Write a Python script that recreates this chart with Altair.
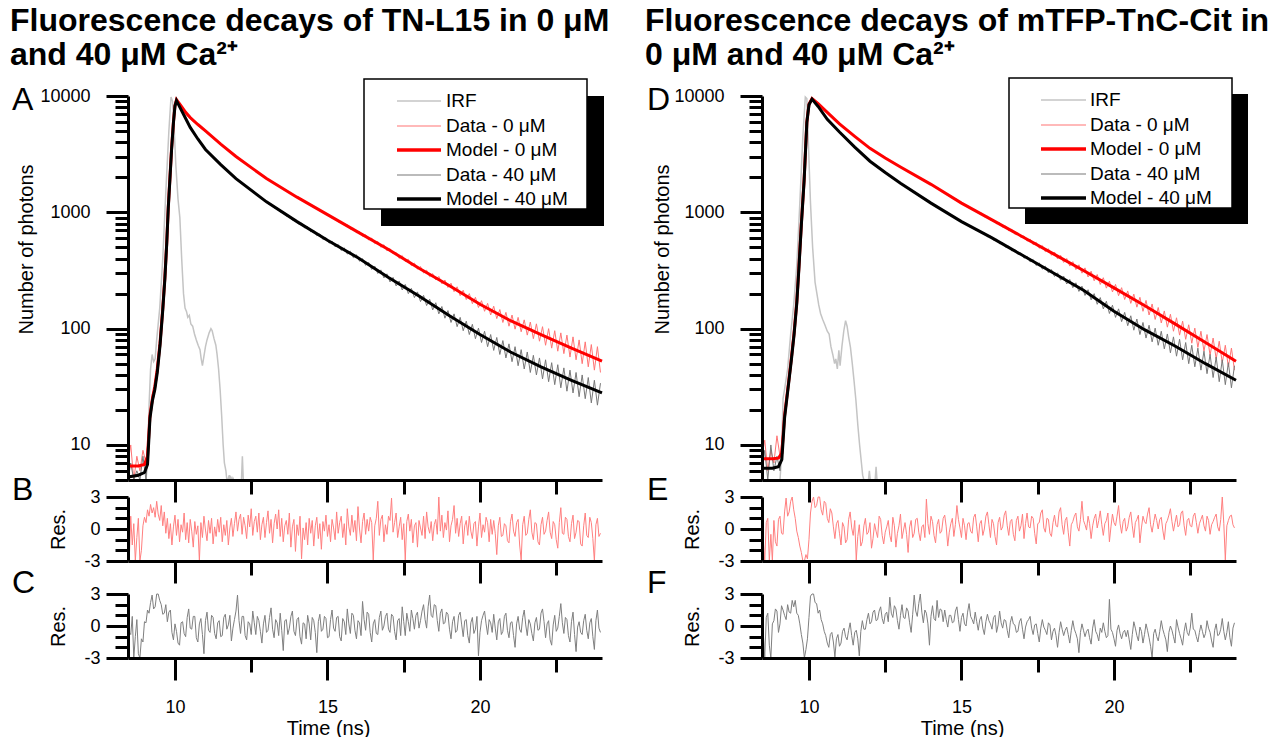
import altair as alt
import pandas as pd

FONT = "Liberation Sans"

# ---------------- sampling of the measured traces (ns) ----------------
T0 = 8.45
DT = 0.1        # decay traces
DT_RES = 0.05   # residual traces
T_DOMAIN = [8.46, 24.0]

# ======================= Left: TN-L15 =======================
L_IRF_T = [9.0, 9.05, 9.1, 9.15, 9.2, 9.25, 9.3, 9.35, 9.4, 9.5, 9.6, 9.7, 9.8, 9.87, 9.92, 9.97, 10.03,
           10.1, 10.16, 10.22, 10.28, 10.33, 10.38, 10.42, 10.47, 10.52, 10.58, 10.64, 10.7, 10.76, 10.82,
           10.86, 10.9, 10.95, 11.0, 11.05, 11.12, 11.18, 11.22, 11.28, 11.34, 11.38, 11.43, 11.48, 11.53,
           11.58, 11.62, 11.67, 11.7, 11.73, 11.78, 11.8, 11.83, 11.88, 11.9, 11.93, 12.18, 12.21, 12.24]
L_IRF_V = [3, 4, 7, 22, 45, 60, 52, 55, 80, 150, 400, 1500, 5000, 9800, 9000, 5500, 2500,
           1300, 900, 400, 200, 150, 140, 125, 130, 110, 105, 90, 80, 72, 66,
           55, 48, 58, 70, 80, 92, 100, 96, 82, 72, 60, 45, 30, 18,
           10, 7, 6, 5, 3, 5.5, 3, 5.3, 3, 5.2, 3, 3, 8, 3]

L_MODEL_T = [8.45, 8.8, 9.0, 9.1, 9.18, 9.26, 9.34, 9.42, 9.51, 9.6, 9.67, 9.73, 9.78, 9.84, 9.89, 9.95,
             10.0, 10.05, 10.2, 10.35, 10.5, 10.75, 11, 11.5, 12, 13, 14, 15, 16, 17, 18, 19, 20, 21, 22, 23, 24]
L_MODEL_0 = [6.6, 6.6, 6.8, 8, 18, 25, 32, 45, 75, 150, 280, 550, 1100, 2100, 3600, 6000,
             8300, 9300, 8220, 7240, 6530, 5690, 5010, 3850, 3020, 1950, 1350, 955, 676, 479, 331, 234, 162,
             117, 89, 68, 52.5]
L_MODEL_40 = [5.3, 5.5, 5.8, 6.8, 17, 24, 30, 42, 72, 145, 270, 540, 1080, 2050, 3500, 5900,
              8200, 9120, 7640, 6400, 5370, 4270, 3470, 2570, 1950, 1230, 832, 575, 407, 275, 191, 129, 89,
              63, 47, 36, 28]

L_DATA_0 = [7, 10, 5, 8, 6, 9, 7, 14, 27, 32, 51, 98, 245, 760, 2290, 6080, 9260,
            8470, 7730, 6980, 6530, 6120, 5830, 5520, 5270, 5030,
            4910, 4630, 4440, 4180, 4010, 3770, 3630, 3410, 3280, 3080,
            2970, 2810, 2730, 2570, 2500, 2360, 2290, 2160, 2100, 1980,
            1930, 1830, 1800, 1700, 1670, 1570, 1550, 1460, 1440, 1360,
            1345, 1262, 1256, 1178, 1172, 1098, 1095, 1022, 1024, 953,
            958, 888, 895, 826, 836, 772, 783, 716, 731, 668,
            684, 622, 641, 578, 601, 538, 562, 500, 527, 466,
            488, 441, 452, 402, 425, 378, 395, 348, 366, 325,
            342, 301, 318, 280, 297, 262, 281, 243, 262, 226,
            246, 208, 229, 192, 214, 178, 200, 164, 186, 152,
            174, 141, 165, 131, 156, 122, 146, 113, 138, 105,
            131, 99, 125, 94, 119, 88, 114, 82, 110, 78,
            104, 72, 100, 68, 96, 64, 92, 61, 88, 57,
            85, 54, 80, 50, 77, 47, 73, 44, 70, 42]
L_DATA_40 = [5, 7, 4, 6, 5, 8, 5, 13, 25, 30, 48, 95, 235, 740, 2250, 5980, 9100,
             8140, 7180, 6440, 5680, 5170, 4690, 4340, 3930, 3650,
             3340, 3200, 2960, 2840, 2620, 2530, 2340, 2270, 2090, 2030,
             1880, 1850, 1710, 1690, 1560, 1540, 1420, 1410, 1290, 1285,
             1180, 1185, 1090, 1098, 1005, 1015, 928, 940, 856, 870,
             792, 808, 734, 752, 680, 700, 630, 652, 584, 606,
             543, 566, 505, 530, 470, 495, 438, 463, 407, 432,
             380, 400, 350, 371, 323, 345, 298, 320, 273, 296,
             252, 276, 233, 257, 215, 240, 200, 222, 185, 207,
             171, 193, 158, 179, 145, 167, 134, 155, 123, 143,
             113, 134, 104, 125, 96, 116, 89, 109, 82, 101,
             76, 95, 70, 89, 65, 84, 60, 79, 56, 74,
             52, 70, 48, 66, 45, 63, 42, 59, 40, 56,
             37, 54, 35, 51, 33, 49, 31, 46, 29, 44,
             28, 42, 26, 40, 25, 38, 23, 36, 22, 34]

L_RES_0 = [0.8, -3.0, 1.2, -1.5, 0.5, -3.0, -0.8, 1.0, -3.0, -2.0, 0.3, 1.1, 0.6, 1.8, 1.2, 2.3, 1.5, 2.0, 1.1, 2.6,
           1.4, 0.8, 2.2, 0.3, 1.6, -0.4, 1.0, -0.9, 0.5, -1.5, 0.2, 1.3, -0.6, 0.9, -1.2, 0.4, -0.3, 1.5, -1.0, 0.6,
           -1.3, 0.9, -0.2, -1.7, 0.7, -0.5, 0.3, -3.0, 0.6, -0.8, 1.2, -0.1, -1.1, 0.8, -0.4, 1.0, -1.4, 0.2, -0.7, 0.9,
           -0.3, 1.1, -1.2, 0.4, -0.6, 0.8, -1.5, 0.1, 1.0, -0.7, 0.5, 1.6, -0.2, 0.9, 1.4, -0.5, 1.1, 0.3, -0.9, 1.3,
           0.2, 1.9, -0.6, 0.7, 1.2, -0.3, 1.5, -1.0, 0.4, 1.1, -0.8, 0.6, 1.7, -0.4, 0.9, -1.3, 0.5, 1.4, 0.0, 1.8,
           -0.7, 1.0, -1.2, 0.3, 0.8, -0.5, 1.5, -1.7, 0.2, 0.9, -2.1, 0.4, -0.6, 1.2, -2.8, 0.1, -1.0, 0.6, -1.5, 1.0,
           -0.4, 0.8, -1.6, 0.3, 1.1, -0.9, 0.5, -1.9, 0.7, -0.2, 1.3, -0.7, 0.4, -1.2, 0.9, 0.1, -1.0, 1.6, -0.4, 0.6,
           1.2, -0.8, 0.5, -1.5, 1.9, 0.2, -0.6, 1.3, -0.3, 0.8, -1.1, 2.1, 0.0, -1.3, 0.7, 1.5, -0.5, 0.9, -0.2, 1.1,
           0.6, -2.9, 0.3, 1.0, 2.6, -0.6, 0.9, 1.3, -1.2, 0.4, -0.5, 1.2, 0.8, 2.9, -0.3, 0.6, 1.5, -0.8, 0.2, 1.1,
           -1.0, 0.5, -2.9, 0.7, 1.4, -0.2, 0.9, -1.3, 0.3, 0.6, -1.7, 0.8, 0.1, -0.6, 1.2, -0.9, 1.6, 0.2, -0.4, 0.7,
           -1.1, 0.4, 0.9, -0.5, 3.0, -0.2, 1.3, -0.8, 0.6, -0.1, 1.7, -1.2, 0.3, 0.9, 2.2, -0.4, 1.0, -0.7, 0.5, 1.2,
           -1.4, 0.3, 0.8, -0.6, 1.2, -0.2, -0.9, 0.5, 0.7, -1.6, 0.2, 1.5, -0.8, 0.4, -0.3, 1.1, 0.6, -1.2, 0.9, -0.5,
           0.8, -0.4, -2.4, 0.3, 1.1, -0.7, -0.6, 0.5, 0.3, -1.1, -1.3, 0.7, 1.4, -0.2, -0.7, 0.6, 0.9, -1.5, -2.9, 0.4,
           1.2, -0.6, -0.4, 0.9, 1.8, -0.3, -1.0, 0.6, 0.5, -1.2, -1.5, 0.4, 1.1, -0.5, -0.2, 0.8, 1.6, -0.3, -0.9, 0.7,
           0.4, -1.0, -1.8, 0.6, 2.0, -0.4, -0.5, 1.1, 0.9, -0.7, -1.2, 0.5, 1.3, -0.9, -0.3, 0.8, 0.7, -1.4, -1.6, 0.3,
           1.5, -0.6, -0.8, 1.1, 0.6, -0.9, -3.0, 0.4, 1.0, -0.7, -0.4]
L_RES_40 = [1.4, -0.6, -0.8, 0.9, -3.0, -1.0, 0.6, -2.6, -3.0, -1.2, -1.5, 0.4, 0.3, 1.5, 1.2, 2.2, 2.9, 1.6, 1.8, 3.0,
            3.0, 2.4, 2.0, 1.1, 1.2, 2.0, 0.4, 1.3, 1.5, -0.6, -1.3, 0.2, -0.5, -1.6, -1.8, 0.3, 0.4, -0.7, -1.0, 0.8,
            1.6, -0.2, -0.3, 0.9, 0.9, -1.1, -1.5, 0.2, 0.7, -0.8, -2.6, 0.5, 1.3, -0.4, -0.6, 1.0, 0.8, -0.7, -1.2, 0.3,
            0.5, -1.0, -0.9, 0.8, 1.1, -0.3, 0.1, 1.0, -1.4, -0.2, 0.6, 1.4, 2.9, 0.5, -0.7, 0.9, 0.9, -0.9, -1.3, 0.4,
            0.2, -0.8, 1.4, 0.3, -0.8, 0.9, 0.5, -0.5, -1.6, 0.2, 1.0, -0.6, -0.4, 0.8, 1.7, -0.3, -1.1, 0.6, 0.3, -0.9,
            1.2, -0.4, -2.3, 0.5, 0.6, -0.8, -0.2, 0.9, 1.4, -0.5, -0.9, 0.6, 0.8, -1.0, -1.7, 0.3, 0.2, -1.2, 1.0, 0.2,
            -1.3, 0.8, 0.5, -0.6, -2.5, 0.4, 1.1, -0.5, -0.3, 0.9, 0.7, -1.1, -1.0, 0.6, 1.5, -0.2, -0.5, 0.8, 0.9, -1.0,
            -1.4, 0.7, 0.4, -0.8, 1.6, 0.2, -0.7, 1.2, 1.0, -0.4, -1.2, 0.5, 0.3, -0.9, 2.3, 0.6, -0.4, 1.3, 1.1, -0.6,
            -1.5, 0.2, 0.6, -0.7, -0.8, 0.8, 1.4, -0.4, 0.0, 0.9, 1.2, -0.3, -0.6, 1.1, 0.9, -0.5, -1.3, 0.5, 0.7, -0.9,
            1.8, 0.4, -0.9, 1.2, 0.4, -0.5, 1.5, 0.7, -0.3, 1.0, 1.3, -0.2, 0.5, 1.4, 2.0, 0.6, -0.2, 1.8, 2.9, 1.0,
            0.8, 2.0, 1.9, 0.5, -0.5, 1.2, 1.6, 0.2, 0.3, 1.3, 1.1, -0.3, -1.2, 0.4, 0.9, -0.6, -0.4, 1.0, 1.3, 0.1,
            -1.0, 0.5, 0.6, -0.9, -1.6, 0.3, 0.8, -0.7, -0.3, 0.9, -2.8, -0.6, 0.5, 1.0, 1.4, 0.2, -0.8, 0.6, 0.3, -0.6,
            1.1, -0.2, -1.3, 0.4, 0.7, -0.8, -0.5, 0.9, 1.2, -0.4, -1.1, 0.3, 0.4, -0.9, -2.0, 0.2, 0.9, -0.3, -0.6, 0.8,
            1.5, 0.1, -0.9, 0.6, 0.2, -0.7, -1.4, 0.3, 0.8, -0.4, -0.3, 1.2, 1.6, 0.4, -1.1, 0.2, 0.5, -1.3, -1.8, 0.1,
            1.0, -0.5, -0.2, 0.9, 2.1, 0.3, -0.7, 0.8, 0.6, -0.9, -1.5, 0.4, 1.3, -0.8, -2.4, -0.1, 0.4, -0.6, -0.8, 0.5,
            1.1, -0.4, -1.2, 0.3, 0.7, -1.0, -2.2, 0.5, 1.5, -0.2, -0.6]

# ======================= Right: mTFP-TnC-Cit =======================
R_IRF_T = [9.0, 9.05, 9.1, 9.15, 9.2, 9.3, 9.4, 9.5, 9.6, 9.7, 9.8, 9.88, 9.93, 9.98, 10.05, 10.12, 10.2,
           10.26, 10.32, 10.38, 10.45, 10.52, 10.6, 10.66, 10.72, 10.78, 10.84, 10.88, 10.93, 10.98, 11.02,
           11.08, 11.14, 11.2, 11.25, 11.3, 11.36, 11.42, 11.48, 11.54, 11.6, 11.66, 11.72, 11.76, 11.8,
           11.95, 11.98, 12.01, 12.17, 12.2, 12.23]
R_IRF_V = [3, 4, 8, 25, 30, 45, 90, 160, 350, 1200, 4500, 9800, 9500, 4000, 1200, 500, 250,
           200, 160, 135, 120, 108, 95, 90, 70, 60, 50, 55, 45, 65, 48,
           70, 95, 117, 105, 85, 69, 50, 35, 24, 15, 10, 7, 5.5, 3,
           3, 6, 3, 3, 6.5, 3]

R_MODEL_T = [8.45, 8.8, 9.0, 9.11, 9.2, 9.34, 9.42, 9.51, 9.6, 9.67, 9.75, 9.84, 9.93, 10.0, 10.1, 10.3,
             10.6, 11, 11.5, 12, 12.5, 13, 14, 15, 16, 17, 18, 19, 20, 21, 22, 23, 24]
R_MODEL_0 = [7.6, 7.6, 7.7, 8.5, 18, 36, 55, 91, 170, 340, 800, 1900, 6000, 8500, 9500, 8600,
             7240, 5750, 4500, 3550, 2930, 2450, 1740, 1200, 861, 617, 442, 316, 224, 158, 110, 76, 52.5]
R_MODEL_40 = [6.3, 6.3, 6.5, 7.5, 17, 35, 53, 88, 165, 330, 780, 1850, 5900, 8400, 9400, 8130,
              6310, 4900, 3640, 2750, 2200, 1780, 1200, 832, 603, 427, 302, 214, 141, 98, 71, 50, 36]

R_DATA_0 = [8, 11, 6, 9, 7, 12, 8, 13, 24, 38, 62, 118, 290, 800, 2000, 6500, 9250,
            9300, 8850, 8340, 7920, 7420, 7080, 6620, 6310, 5900,
            5650, 5320, 5130, 4830, 4660, 4380, 4230, 3980, 3840, 3610,
            3510, 3330, 3265, 3090, 3035, 2870, 2820, 2660, 2625, 2470,
            2445, 2300, 2282, 2145, 2130, 2000, 1990, 1865, 1858, 1740,
            1733, 1618, 1612, 1503, 1498, 1395, 1394, 1295, 1296, 1202,
            1205, 1121, 1128, 1048, 1056, 978, 990, 914, 926, 853,
            868, 797, 814, 744, 763, 695, 715, 648, 670, 605,
            628, 565, 589, 527, 553, 491, 518, 458, 486, 427,
            456, 398, 427, 371, 401, 345, 377, 322, 354, 300,
            333, 278, 312, 258, 292, 240, 274, 223, 256, 207,
            240, 192, 225, 178, 211, 165, 198, 153, 186, 141,
            175, 131, 163, 120, 152, 112, 142, 103, 133, 95,
            124, 88, 116, 81, 108, 75, 101, 69, 95, 64,
            89, 59, 83, 55, 78, 51, 72, 47, 68, 44]
R_DATA_40 = [6, 9, 5, 10, 6, 8, 6, 12, 22, 37, 60, 115, 280, 780, 1950, 6300, 9200,
             9080, 8400, 7830, 7130, 6610, 6080, 5770, 5350, 5090,
             4740, 4510, 4220, 4030, 3760, 3590, 3350, 3200, 2980, 2855,
             2675, 2600, 2450, 2385, 2242, 2185, 2053, 2004, 1879, 1838,
             1724, 1697, 1594, 1571, 1472, 1453, 1360, 1345, 1256, 1245,
             1162, 1156, 1079, 1075, 1002, 999, 929, 929, 862, 864,
             802, 809, 751, 758, 703, 712, 659, 668, 616, 627,
             576, 587, 537, 549, 500, 513, 465, 480, 433, 449,
             403, 420, 375, 393, 349, 368, 325, 344, 302, 322,
             281, 302, 261, 283, 242, 265, 225, 248, 209, 232,
             193, 216, 177, 200, 162, 185, 148, 172, 135, 159,
             125, 148, 115, 138, 106, 129, 97, 121, 89, 113,
             83, 107, 77, 101, 72, 95, 67, 90, 62, 85,
             58, 81, 54, 76, 50, 72, 47, 68, 44, 64,
             41, 60, 38, 57, 35, 54, 33, 51, 31, 48]

R_RES_0 = [1.5, -1.0, -3.0, 0.6, 1.0, -3.0, -0.5, -3.0, 0.8, -1.2, -1.6, 0.9, 1.2, -0.4, -0.5, 1.6, 2.9, 1.2, 1.6, 2.6,
           3.0, 1.8, 1.0, -0.2, -0.8, -1.6, -2.2, -3.0, -3.0, -2.4, -2.8, -1.0, 1.5, 2.6, 3.0, 2.0, 2.2, 3.0, 3.0, 1.8,
           1.3, 2.6, 2.4, 1.0, 0.6, 1.9, 1.5, 0.2, -0.9, 0.5, 0.8, -0.4, -1.5, 0.6, 0.2, -1.3, -1.0, 0.9, 1.6, 0.1,
           -0.6, 0.8, -2.9, -0.7, 0.4, -1.6, -1.2, 0.3, 1.0, -0.5, -0.3, 0.6, -1.8, -0.9, 0.5, -0.2, -0.8, 1.2, 0.9, -0.6,
           -1.4, -0.3, 0.2, 0.8, -0.6, -1.2, 1.1, 0.3, -1.7, -0.4, 0.3, 1.4, -0.9, -0.1, 0.6, -0.5, -2.2, 0.2, 0.8, -0.8,
           -0.4, 0.9, 1.0, -0.3, -1.1, 0.2, 0.4, -0.8, 2.8, 0.5, -0.5, 1.2, 0.7, -0.6, -1.3, 0.4, 0.9, -0.4, -0.2, 1.0,
           1.3, 0.2, -1.6, -0.3, 0.5, 1.0, -0.7, 0.4, 2.2, 0.9, 0.1, -0.8, 1.0, 0.3, -1.0, 0.5, 0.6, -0.2, -0.4, 1.1,
           1.4, 0.2, -1.2, 0.5, 0.8, -0.6, 0.0, 1.2, 1.6, 0.4, -0.8, 0.9, 0.5, -0.7, -1.5, 0.6, 1.1, -0.1, 0.2, 1.3,
           1.7, 0.3, -0.6, 0.7, 0.9, -0.5, -1.1, 0.8, 1.2, -0.2, 0.3, 1.4, -0.9, 0.5, 1.5, 0.2, 0.1, 1.2, 1.0, -0.4,
           -1.4, 0.5, 0.6, 1.5, 1.8, 0.1, -0.3, 1.0, 0.9, -0.4, -0.7, 0.6, 1.3, 0.3, 0.2, 1.6, 2.0, 0.4, -0.5, 0.8,
           1.1, -0.3, -1.6, 0.4, 0.7, 1.2, 1.5, 0.2, -0.2, 0.9, 2.6, 0.8, 0.4, -0.1, 1.2, 0.5, -0.9, 0.3, 1.0, 1.4,
           0.1, 0.8, 1.7, 0.4, -0.6, 0.5, 0.8, 1.5, -1.2, 0.2, 1.4, 0.6, 0.3, 1.2, 2.2, 0.5, -0.4, 0.7, 1.0, -0.2,
           0.2, 1.1, 1.6, 0.3, -0.8, 0.6, 0.9, 1.3, -1.3, 0.1, 1.2, 0.7, 0.5, 1.4, 2.0, 0.4, -0.3, 0.6, 1.4, 0.8,
           0.0, 0.9, 1.1, -0.1, -1.0, 0.5, 0.8, 1.3, 1.9, 0.7, -0.2, 0.6, 1.3, 0.2, 0.4, 1.5, 1.7, 0.3, -0.6, 0.8,
           1.0, 0.3, 0.2, 1.2, 1.5, 0.6, -0.4, 0.5, 0.9, 1.3, 0.3, -0.2, 1.2, 0.8, -0.5, 0.4, 0.7, 1.1, 1.4, 0.2,
           -0.2, 0.9, 3.0, 0.5, -2.9, 0.3, 0.8, 1.2, 1.3, 0.4, 0.1]
R_RES_40 = [1.6, -0.6, -2.9, 0.8, 1.2, -1.8, -3.0, 0.2, 0.5, 1.6, 1.4, -0.6, 0.2, 1.9, 1.5, 1.0, 0.6, 2.0, 1.3, 1.2,
            2.4, 1.8, 2.4, 1.2, 1.0, 0.2, -0.8, -1.6, -3.0, -2.2, -1.2, 0.8, 2.8, 3.0, 3.0, 2.2, 2.1, 1.2, 1.5, 0.6,
            0.2, -0.5, -0.9, -1.6, -2.0, -0.8, -0.6, -1.5, -2.9, -1.2, -0.8, -1.9, -1.6, -0.5, -0.2, -1.0, -1.3, -0.4, 0.3, -0.9,
            -1.8, -0.6, -0.4, -1.2, -2.8, -0.5, 0.5, -0.3, -0.3, 0.6, 1.2, 0.2, 0.4, 1.3, 1.5, 0.5, 0.6, 1.4, 1.8, 0.7,
            0.2, 1.1, 1.3, 0.4, 2.7, 1.2, 0.8, 1.9, 1.6, 0.5, -0.3, 1.0, 2.0, 0.8, 0.7, 1.7, 1.4, 0.3, -0.6, 1.1,
            2.9, 1.4, 0.9, 2.1, 3.0, 1.3, 0.3, 1.5, 1.2, 0.2, -1.8, 0.9, 1.9, 0.7, 0.5, 2.4, 0.8, 1.6, 1.5, 0.4,
            1.5, 0.6, -0.1, 1.0, 1.0, 0.3, 0.4, 1.4, 1.8, 0.6, -0.5, 0.8, 1.2, 0.2, 0.0, 1.3, 2.1, 0.9, 0.6, 0.2,
            1.3, 0.4, -0.4, 0.6, 0.9, -0.2, -0.8, 0.4, 1.1, 0.5, 0.2, -0.3, 0.8, 1.0, -0.6, 0.1, 1.4, 0.3, -0.2, 0.6,
            0.5, -0.4, -1.1, 0.3, 0.9, 0.2, 0.1, -0.6, -0.5, 0.4, 0.7, -0.3, -1.2, -0.1, 0.4, 0.6, 0.9, -0.2, -0.8, 0.1,
            0.2, -0.7, -1.5, -0.2, 0.6, -0.1, -0.4, -0.8, 0.3, 0.1, -1.3, -0.5, -0.2, -0.9, -2.0, -0.6, 0.4, -0.3, -0.9, -0.4,
            -0.1, -0.8, -1.6, -0.4, 0.5, -0.3, -0.7, -1.2, -2.5, -0.6, 0.2, -0.4, -1.0, -0.5, -0.3, -1.1, -1.7, -0.2, 0.6, -0.5,
            -0.8, -1.4, -0.2, -0.6, 0.3, -0.5, -1.1, -0.9, 2.5, -0.3, -0.6, -1.2, -1.9, -0.4, 0.1, -0.7, -1.2, -0.6, -0.4, -1.0,
            -0.4, -1.3, -2.2, -0.8, 0.4, -0.2, -0.9, -1.4, -0.1, -0.5, -1.6, -0.8, 0.2, -0.4, -1.1, -1.9, -3.0, -0.7, -0.3, -1.0,
            -1.4, -0.5, 0.5, -0.3, -0.8, -1.3, -2.4, -0.6, 0.0, -0.4, -1.0, -1.6, 0.6, -0.1, -0.7, -1.2, -1.8, -0.5, 0.3, -0.6,
            -0.9, -0.2, 1.2, -0.3, -0.4, -1.0, -1.5, -0.6, 0.1, -0.5, -1.1, -0.7, 0.5, -0.2, -0.6, -1.4, -2.0, -0.4, 0.2, -0.9,
            -0.8, -0.3, 0.7, -0.5, -1.3, -0.6, 0.4, -1.1, -1.9, -0.2, 0.3]

# ---------------- tick values ----------------
Y_MAJOR = [10, 100, 1000, 10000]
Y_MINOR = [5, 6, 7, 8, 9, 20, 30, 40, 50, 60, 70, 80, 90, 200, 300, 400, 500, 600, 700, 800, 900,
           2000, 3000, 4000, 5000, 6000, 7000, 8000, 9000]
X_MAJOR = [10, 15, 20]
X_MINOR = [12.5, 17.5, 22.5]
RES_MAJOR = [-3, 0, 3]
RES_MINOR = [-2, -1, 1, 2]

LEGEND_LABELS = ["IRF", "Data - 0 μM", "Model - 0 μM", "Data - 40 μM", "Model - 40 μM"]

# ---------------- styles / layout ----------------
C_IRF, C_D0, C_M0, C_D40, C_M40 = "#c4c4c4", "#ff7474", "#ff0000", "#787878", "#000000"
C_R0, C_R40 = "#ff7f7f", "#7f7f7f"
LEG_STYLE = [(C_IRF, 1.5), (C_D0, 1.2), (C_M0, 3.5), (C_D40, 1.2), (C_M40, 3.5)]

W, H = 474, 562
TOP_H = 384
B_TOP, B_BOT = 401, 465
C_TOP, C_BOT = 498, 562

ONE = pd.DataFrame({"k": [0]})


def grid_df(vals, dt=DT):
    return pd.DataFrame({"t": [round(T0 + dt * i, 3) for i in range(len(vals))], "v": vals})


def pair_df(ts, vs):
    return pd.DataFrame({"t": ts, "v": vs})


def xaxis(offset, major, last=False):
    kw = dict(orient="bottom", offset=offset, values=X_MAJOR if major else X_MINOR,
              tickSize=22 if major else 14, domain=major, labels=bool(last and major),
              title=None, grid=False, zindex=1)
    if last and major:
        kw.update(labelPadding=18, title="Time (ns)", titleX=200, titleY=70,
                  titleAlign="center", titleBaseline="middle")
    return alt.Axis(**kw)


def txt(s, x, y, **kw):
    return alt.Chart(ONE).mark_text(text=s, font=FONT, **kw).encode(x=alt.value(x), y=alt.value(y))


def column(titles, letters, title_x, ytitle_x, irf_t, irf_v, mt, m0, m40, d0, d40, r0, r40, leg, anchor):
    xs = alt.Scale(domain=T_DOMAIN, nice=False, zero=False, clamp=True)
    ys_top = alt.Scale(type="log", domain=[5, 10000], range=[TOP_H, 0], nice=False, clamp=True)
    ys_b = alt.Scale(domain=[-3, 3], range=[B_BOT, B_TOP], nice=False, zero=False, clamp=True)
    ys_c = alt.Scale(domain=[-3, 3], range=[C_BOT, C_TOP], nice=False, zero=False, clamp=True)

    y_top_major = alt.Axis(orient="left", values=Y_MAJOR, tickSize=22, labelPadding=16, format="d",
                           title="Number of photons", titleX=ytitle_x, titleY=153, titleAngle=270,
                           titleAlign="center", titleBaseline="middle", grid=False, zindex=1)
    y_top_minor = alt.Axis(orient="left", values=Y_MINOR, tickSize=13, labels=False, domain=False,
                           title=None, grid=False, zindex=1)

    def res_major(ty):
        return alt.Axis(orient="left", values=RES_MAJOR, tickSize=22, labelPadding=6,
                        labelExpr="datum.value < 0 ? '-' + abs(datum.value) : '' + datum.value",
                        title="Res.", titleX=-70, titleY=ty, titleAngle=270, titleAlign="center",
                        titleBaseline="middle", grid=False, zindex=1)

    res_minor = alt.Axis(orient="left", values=RES_MINOR, tickSize=13, labels=False, domain=False,
                         title=None, grid=False, zindex=1)

    layers = []
    if anchor:
        layers.append(alt.Chart(ONE).mark_rect(opacity=0).encode(
            x=alt.value(-128), x2=alt.value(-126), y=alt.value(-96), y2=alt.value(-94)))

    # titles and panel letters
    layers.append(txt(titles[0], title_x, -65, align="left", baseline="alphabetic",
                      fontSize=32, fontWeight="bold"))
    layers.append(txt(titles[1], title_x, -31, align="left", baseline="alphabetic",
                      fontSize=32, fontWeight="bold"))
    for lt, ly in zip(letters, [4, 394, 487]):
        layers.append(txt(lt, title_x + 2, ly, align="left", baseline="middle", fontSize=32))

    # decay panel
    layers.append(alt.Chart(pair_df(irf_t, irf_v)).mark_line(color=C_IRF, strokeWidth=1.5).encode(
        x=alt.X("t:Q", scale=xs, axis=xaxis(-(H - TOP_H), True)),
        y=alt.Y("v:Q", scale=ys_top, axis=y_top_major)))
    layers.append(alt.Chart(grid_df(d0)).mark_line(color=C_D0, strokeWidth=1).encode(
        x=alt.X("t:Q", scale=xs, axis=xaxis(-(H - TOP_H), False)),
        y=alt.Y("v:Q", scale=ys_top, axis=y_top_minor)))
    layers.append(alt.Chart(grid_df(d40)).mark_line(color=C_D40, strokeWidth=1).encode(
        x=alt.X("t:Q", scale=xs, axis=None), y=alt.Y("v:Q", scale=ys_top, axis=None)))
    layers.append(alt.Chart(pair_df(mt, m0)).mark_line(color=C_M0, strokeWidth=3).encode(
        x=alt.X("t:Q", scale=xs, axis=None), y=alt.Y("v:Q", scale=ys_top, axis=None)))
    layers.append(alt.Chart(pair_df(mt, m40)).mark_line(color=C_M40, strokeWidth=3).encode(
        x=alt.X("t:Q", scale=xs, axis=None), y=alt.Y("v:Q", scale=ys_top, axis=None)))

    # residual panels
    layers.append(alt.Chart(grid_df(r0, DT_RES)).mark_line(color=C_R0, strokeWidth=1).encode(
        x=alt.X("t:Q", scale=xs, axis=xaxis(-(H - B_BOT), True)),
        y=alt.Y("v:Q", scale=ys_b, axis=res_major((B_TOP + B_BOT) / 2))))
    layers.append(alt.Chart(grid_df(r0, DT_RES)).mark_line(strokeOpacity=0).encode(
        x=alt.X("t:Q", scale=xs, axis=xaxis(-(H - B_BOT), False)),
        y=alt.Y("v:Q", scale=ys_b, axis=res_minor)))
    layers.append(alt.Chart(grid_df(r40, DT_RES)).mark_line(color=C_R40, strokeWidth=1).encode(
        x=alt.X("t:Q", scale=xs, axis=xaxis(0, True, last=True)),
        y=alt.Y("v:Q", scale=ys_c, axis=res_major((C_TOP + C_BOT) / 2))))
    layers.append(alt.Chart(grid_df(r40, DT_RES)).mark_line(strokeOpacity=0).encode(
        x=alt.X("t:Q", scale=xs, axis=xaxis(0, False)),
        y=alt.Y("v:Q", scale=ys_c, axis=res_minor)))

    # legend with drop shadow
    (bx0, by0, bx1, by1), sh, lx0, lx1, tx, rows = leg
    layers.append(alt.Chart(ONE).mark_rect(color="black").encode(
        x=alt.value(bx0 + sh), x2=alt.value(bx1 + sh), y=alt.value(by0 + sh), y2=alt.value(by1 + sh)))
    layers.append(alt.Chart(ONE).mark_rect(fill="white", stroke="black", strokeWidth=1.5).encode(
        x=alt.value(bx0), x2=alt.value(bx1), y=alt.value(by0), y2=alt.value(by1)))
    for (col, sw), lab, ry in zip(LEG_STYLE, LEGEND_LABELS, rows):
        layers.append(alt.Chart(ONE).mark_rule(color=col, strokeWidth=sw).encode(
            x=alt.value(lx0), x2=alt.value(lx1), y=alt.value(ry)))
        layers.append(txt(lab, tx, ry, align="left", baseline="middle", fontSize=19))

    return (alt.layer(*layers)
            .resolve_scale(y="independent")
            .resolve_axis(x="independent", y="independent")
            .properties(width=W, height=H))


left = column(("Fluorescence decays of TN-L15 in 0 μM", "and 40 μM Ca²⁺"), ("A", "B", "C"), -118, -102,
              L_IRF_T, L_IRF_V, L_MODEL_T, L_MODEL_0, L_MODEL_40, L_DATA_0, L_DATA_40, L_RES_0, L_RES_40,
              ((236, -17, 459, 113), 17, 269, 313, 318, [5, 30, 54, 79, 103]), True)
right = column(("Fluorescence decays of mTFP-TnC-Cit in", "0 μM and 40 μM Ca²⁺"), ("D", "E", "F"), -117, -100,
               R_IRF_T, R_IRF_V, R_MODEL_T, R_MODEL_0, R_MODEL_40, R_DATA_0, R_DATA_40, R_RES_0, R_RES_40,
               ((247, -18, 470, 112), 16, 279, 324, 328, [4, 29, 53, 78, 102]), False)

chart = (alt.hconcat(left, right, spacing=160, bounds="flush")
         .properties(padding=0, background="white")
         .configure_view(stroke=None)
         .configure_axis(domainColor="black", domainWidth=3, tickColor="black", tickWidth=3,
                         labelFont=FONT, labelFontSize=18, labelColor="black",
                         titleFont=FONT, titleFontSize=20, titleFontWeight="normal", titleColor="black",
                         grid=False))

chart.save("out.html", embed_options={"renderer": "svg", "actions": False})
